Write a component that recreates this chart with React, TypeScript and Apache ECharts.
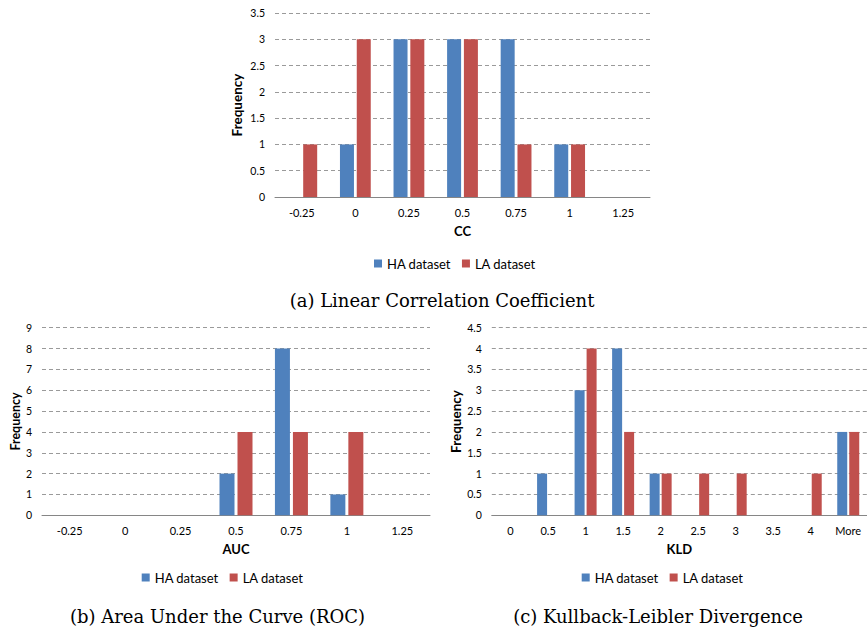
import React, { useEffect, useRef } from "react";
import * as echarts from "echarts";

const ccCategories = ["-0.25", "0", "0.25", "0.5", "0.75", "1", "1.25"];
const ccHA = [0, 1, 3, 3, 3, 1, 0];
const ccLA = [1, 3, 3, 3, 1, 1, 0];

const aucCategories = ["-0.25", "0", "0.25", "0.5", "0.75", "1", "1.25"];
const aucHA = [0, 0, 0, 2, 8, 1, 0];
const aucLA = [0, 0, 0, 4, 4, 4, 0];

const kldCategories = ["0", "0.5", "1", "1.5", "2", "2.5", "3", "3.5", "4", "More"];
const kldHA = [0, 1, 3, 4, 1, 0, 0, 0, 0, 2];
const kldLA = [0, 0, 4, 2, 1, 1, 1, 0, 1, 2];

const seriesNames = ["HA dataset", "LA dataset"];
const captions = [
  "(a) Linear Correlation Coefficient",
  "(b) Area Under the Curve (ROC)",
  "(c) Kullback-Leibler Divergence",
];

const BLUE = "#4F81BD";
const RED = "#C0504D";
const FONT = "Lato, 'Open Sans', sans-serif";
const SERIF = "'DejaVu Serif', 'Liberation Serif', serif";

export default function App() {
  const ref = useRef<HTMLDivElement>(null);
  useEffect(() => {
    if (!ref.current) return;
    const chart = echarts.init(ref.current, null, { renderer: "svg" });

    const xAxis = (idx: number, data: string[], name: string) => ({
      type: "category",
      gridIndex: idx,
      data,
      name,
      nameLocation: "middle",
      nameGap: 27,
      nameTextStyle: { fontFamily: FONT, fontWeight: "bold", fontSize: 13, color: "#000" },
      axisLine: { show: true, lineStyle: { color: "#868686", width: 1 } },
      axisTick: { show: false },
      axisLabel: { fontFamily: FONT, fontSize: 11, color: "#000", margin: 10, interval: 0 },
      splitLine: { show: false },
    });
    const yAxis = (idx: number, max: number, interval: number, gap: number, fs: number) => ({
      type: "value",
      gridIndex: idx,
      min: 0,
      max,
      interval,
      name: "Frequency",
      nameLocation: "middle",
      nameRotate: 90,
      nameGap: gap,
      nameTextStyle: { fontFamily: FONT, fontWeight: "bold", fontSize: fs, color: "#000" },
      axisLine: { show: false },
      axisTick: { show: false },
      axisLabel: { fontFamily: FONT, fontSize: 10.5, color: "#000", margin: 10 },
      splitLine: { show: true, lineStyle: { color: "#9a9a9a", type: [4, 3], width: 1 } },
    });
    const bars = (idx: number, ha: number[], la: number[], w: number) => [
      {
        type: "bar",
        name: seriesNames[0],
        xAxisIndex: idx,
        yAxisIndex: idx,
        data: ha,
        barWidth: w,
        barGap: "20%",
        itemStyle: { color: BLUE },
      },
      {
        type: "bar",
        name: seriesNames[1],
        xAxisIndex: idx,
        yAxisIndex: idx,
        data: la,
        barWidth: w,
        barGap: "20%",
        itemStyle: { color: RED },
      },
    ];
    const legend = (left: number, top: number) => ({
      left,
      top,
      data: seriesNames,
      icon: "rect",
      itemWidth: 8,
      itemHeight: 8,
      itemGap: 11,
      padding: 0,
      textStyle: { fontFamily: FONT, fontSize: 13, color: "#000" },
    });
    const caption = (text: string, x: number, y: number) => ({
      type: "text",
      x,
      y,
      style: {
        text,
        font: `18px ${SERIF}`,
        fill: "#000",
        textAlign: "center",
        textVerticalAlign: "middle",
      },
    });

    chart.setOption({
      animation: false,
      backgroundColor: "#fff",
      grid: [
        { left: 275, top: 13, width: 375, height: 184, containLabel: false },
        { left: 42, top: 327.7, width: 388, height: 187.6, containLabel: false },
        { left: 491.8, top: 327.7, width: 377.8, height: 187.6, containLabel: false },
      ],
      xAxis: [
        xAxis(0, ccCategories, "CC"),
        xAxis(1, aucCategories, "AUC"),
        xAxis(2, kldCategories, "KLD"),
      ],
      yAxis: [yAxis(0, 3.5, 0.5, 31, 13.5), yAxis(1, 9, 1, 19, 12.5), yAxis(2, 4.5, 0.5, 27, 13.5)],
      legend: [legend(374, 257), legend(141.7, 571), legend(581.7, 571)],
      series: [
        ...bars(0, ccHA, ccLA, 14),
        ...bars(1, aucHA, aucLA, 15),
        ...bars(2, kldHA, kldLA, 10),
      ],
      graphic: [
        caption(captions[0], 442, 300),
        caption(captions[1], 217.5, 616.7),
        caption(captions[2], 658, 616.7),
      ],
    });
    return () => chart.dispose();
  }, []);
  return (
    <div
      ref={ref}
      style={{ position: "absolute", left: 0, top: 0, width: 867, height: 629 }}
    />
  );
}
